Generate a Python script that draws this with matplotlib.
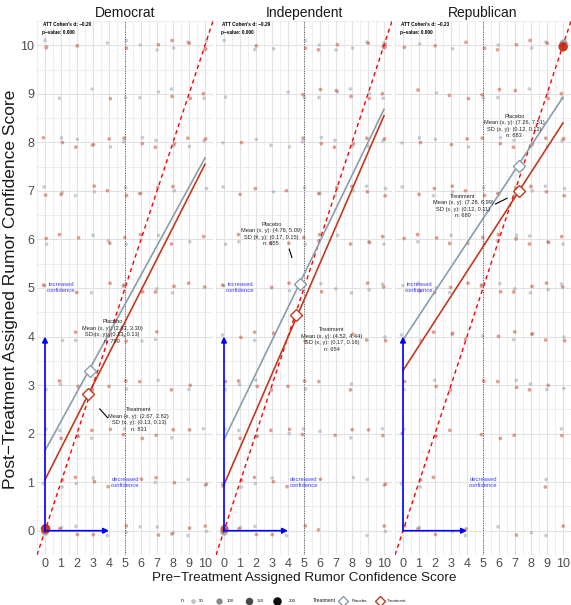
import numpy as np
import matplotlib
matplotlib.use("Agg")
import matplotlib.pyplot as plt

plt.rcParams['font.family'] = ['Liberation Sans', 'DejaVu Sans']

parties = ["Democrat", "Independent", "Republican"]
scores = list(range(11))

# Respondent counts per (pre, post) cell.
# Rows: post-treatment score 10 down to 0; columns: pre-treatment score 0..10.
dem_placebo_counts = [
    [6, 0, 0, 0, 3, 5, 3, 3, 4, 5, 5],
    [0, 4, 0, 3, 0, 4, 3, 3, 5, 0, 5],
    [0, 4, 3, 4, 3, 4, 4, 5, 5, 4, 5],
    [5, 5, 3, 5, 0, 5, 4, 0, 5, 0, 4],
    [5, 0, 0, 5, 5, 5, 0, 5, 0, 4, 0],
    [4, 0, 0, 4, 0, 5, 0, 5, 4, 0, 0],
    [0, 4, 5, 4, 0, 4, 3, 3, 0, 0, 0],
    [8, 4, 0, 0, 0, 4, 0, 4, 0, 4, 0],
    [8, 5, 4, 4, 0, 4, 0, 0, 4, 0, 4],
    [6, 4, 4, 4, 0, 0, 0, 4, 0, 4, 4],
    [150, 6, 6, 0, 4, 4, 3, 4, 4, 4, 4],
]
dem_treatment_counts = [
    [12, 0, 6, 0, 0, 5, 0, 4, 6, 5, 14],
    [0, 0, 0, 0, 3, 0, 0, 0, 6, 5, 5],
    [3, 4, 5, 5, 4, 6, 5, 5, 6, 4, 5],
    [5, 5, 0, 5, 4, 5, 4, 6, 6, 0, 0],
    [5, 5, 5, 0, 5, 4, 5, 0, 5, 0, 5],
    [5, 0, 6, 0, 5, 4, 6, 6, 6, 5, 5],
    [4, 0, 4, 0, 0, 4, 0, 4, 0, 0, 0],
    [0, 5, 5, 5, 4, 5, 4, 0, 5, 4, 0],
    [0, 6, 5, 6, 4, 5, 5, 4, 6, 5, 0],
    [0, 6, 5, 5, 4, 0, 5, 4, 4, 0, 4],
    [260, 6, 6, 5, 0, 5, 0, 4, 4, 5, 4],
]
ind_placebo_counts = [
    [4, 0, 4, 4, 0, 4, 3, 4, 4, 5, 30],
    [4, 0, 0, 0, 3, 4, 4, 4, 5, 5, 5],
    [3, 0, 4, 4, 3, 4, 4, 4, 5, 5, 5],
    [4, 0, 0, 4, 0, 5, 4, 4, 5, 4, 4],
    [4, 4, 4, 0, 0, 4, 4, 5, 0, 4, 4],
    [5, 0, 0, 0, 4, 5, 4, 5, 5, 5, 5],
    [5, 0, 4, 0, 0, 0, 0, 0, 0, 0, 5],
    [6, 5, 4, 0, 0, 5, 0, 0, 5, 0, 0],
    [5, 5, 4, 0, 4, 4, 4, 0, 5, 0, 4],
    [5, 5, 4, 4, 0, 0, 0, 0, 4, 4, 4],
    [150, 5, 4, 0, 4, 0, 0, 0, 0, 4, 5],
]
ind_treatment_counts = [
    [0, 0, 4, 0, 0, 4, 4, 5, 0, 5, 40],
    [0, 0, 0, 0, 0, 5, 5, 4, 5, 5, 6],
    [0, 4, 0, 0, 0, 5, 5, 5, 5, 5, 5],
    [0, 4, 5, 0, 4, 0, 5, 5, 5, 5, 6],
    [0, 4, 0, 5, 5, 5, 5, 0, 5, 5, 5],
    [4, 0, 0, 5, 5, 5, 5, 0, 0, 5, 5],
    [5, 4, 4, 4, 0, 4, 0, 0, 4, 5, 5],
    [5, 5, 5, 5, 4, 5, 4, 0, 5, 0, 0],
    [0, 5, 5, 5, 4, 5, 0, 4, 5, 4, 5],
    [4, 5, 4, 5, 4, 0, 4, 0, 0, 0, 5],
    [150, 5, 5, 5, 0, 5, 4, 0, 0, 0, 5],
]
rep_placebo_counts = [
    [0, 4, 0, 4, 0, 0, 4, 0, 5, 5, 170],
    [0, 0, 4, 0, 0, 4, 4, 0, 5, 5, 6],
    [4, 5, 4, 0, 4, 0, 4, 5, 5, 5, 6],
    [4, 0, 5, 5, 0, 5, 4, 5, 5, 5, 5],
    [0, 4, 0, 5, 0, 5, 5, 5, 5, 4, 5],
    [4, 5, 4, 4, 0, 5, 5, 5, 5, 5, 5],
    [5, 5, 0, 4, 0, 5, 0, 5, 5, 0, 5],
    [5, 0, 5, 0, 0, 0, 0, 5, 5, 5, 4],
    [4, 0, 4, 0, 0, 0, 0, 0, 0, 0, 5],
    [5, 5, 0, 0, 0, 0, 0, 0, 0, 5, 0],
    [0, 5, 0, 4, 5, 0, 5, 0, 4, 5, 0],
]
rep_treatment_counts = [
    [5, 0, 4, 0, 4, 6, 4, 5, 6, 6, 250],
    [0, 5, 0, 5, 4, 4, 5, 5, 0, 5, 6],
    [0, 5, 0, 5, 5, 5, 5, 5, 6, 5, 8],
    [0, 5, 5, 5, 4, 5, 4, 5, 8, 5, 6],
    [5, 5, 5, 5, 5, 5, 5, 7, 6, 5, 5],
    [0, 5, 5, 5, 5, 8, 5, 5, 6, 5, 5],
    [5, 0, 5, 5, 4, 0, 5, 5, 5, 5, 5],
    [5, 0, 5, 5, 0, 5, 5, 5, 5, 5, 0],
    [5, 0, 5, 5, 0, 5, 5, 5, 0, 0, 5],
    [0, 5, 5, 0, 0, 0, 0, 0, 0, 5, 0],
    [5, 5, 5, 0, 5, 0, 0, 5, 0, 0, 5],
]
placebo_counts = [dem_placebo_counts, ind_placebo_counts, rep_placebo_counts]
treatment_counts = [dem_treatment_counts, ind_treatment_counts, rep_treatment_counts]

cohens_d = [-0.20, -0.29, -0.23]
p_values = [0.000, 0.000, 0.000]

placebo_mean_x = [2.83, 4.76, 7.26]
placebo_mean_y = [3.30, 5.09, 7.51]
placebo_sd_x = [0.13, 0.17, 0.12]
placebo_sd_y = [0.13, 0.15, 0.12]
placebo_n = [790, 655, 683]
treatment_mean_x = [2.67, 4.52, 7.28]
treatment_mean_y = [2.82, 4.44, 6.99]
treatment_sd_x = [0.13, 0.17, 0.12]
treatment_sd_y = [0.13, 0.16, 0.11]
treatment_n = [831, 654, 680]

# Fitted OLS lines (post ~ pre) per arm
placebo_intercept = [1.65, 1.88, 3.93]
placebo_slope = [0.603, 0.68, 0.50]
treatment_intercept = [1.05, 0.95, 3.30]
treatment_slope = [0.65, 0.76, 0.51]

size_legend_n = [50, 100, 150, 200]
arm_labels = ["Placebo", "Treatment"]

# Styling / layout
placebo_col = "#8b9dab"
treatment_col = "#c4391d"
placebo_label_pos = [(4.2, 4.1), (2.96, 6.11), (6.95, 8.34)]
treatment_label_pos = [(5.86, 2.29), (6.74, 3.94), (3.75, 6.69)]
leader_segments = [
    [((3.42, 2.51), (3.91, 2.33))],
    [((4.08, 5.80), (4.24, 5.63))],
    [((5.78, 6.73), (6.51, 6.85))],
]


def diam_px(n):
    return 2.8 + 0.42 * np.sqrt(n)


def point_size(n):
    return (diam_px(n) * 0.72) ** 2


def point_alpha(n):
    return np.clip(0.48 + 0.52 * (np.asarray(n) / 220.0) ** 1.5, 0, 1)


def cells(counts, shift):
    m = np.array(counts)
    post_vals = np.array(scores[::-1])
    xs, ys, ns = [], [], []
    for r in range(11):
        for c in range(11):
            n = m[r, c]
            if n > 0:
                # small deterministic jitter so the two arms don't overlap exactly
                amp = 0.1 if n < 20 else 0.04
                jx = amp * np.sin(1.9 * r + 2.7 * c + shift)
                jy = amp * np.cos(2.3 * r + 1.3 * c + 2 * shift)
                xs.append(scores[c] + jx)
                ys.append(post_vals[r] + jy)
                ns.append(n)
    return np.array(xs), np.array(ys), np.array(ns)


W, H = 571, 605
fig = plt.figure(figsize=(W / 100, H / 100), dpi=100)
panel_left = [37, 216, 395]
panel_w = 176
panel_top, panel_bottom = 21, 555

for i, party in enumerate(parties):
    ax = fig.add_axes([panel_left[i] / W, (H - panel_bottom) / H, panel_w / W,
                       (panel_bottom - panel_top) / H])
    ax.set_xlim(-0.5, 10.5)
    ax.set_ylim(-0.5, 10.5)
    ax.set_xticks(scores)
    ax.set_yticks(scores)
    ax.set_xticks(np.arange(-0.5, 10.6, 1.0), minor=True)
    ax.set_yticks(np.arange(-0.5, 10.6, 1.0), minor=True)
    ax.grid(which="major", color="#e2e2e2", lw=0.8, zorder=0)
    ax.grid(which="minor", color="#ebebeb", lw=0.6, zorder=0)
    ax.set_axisbelow(True)
    for sp in ax.spines.values():
        sp.set_visible(False)
    ax.tick_params(which="both", length=0, labelsize=9, labelcolor="#4d4d4d", pad=2)
    if i > 0:
        ax.tick_params(axis="y", labelleft=False)
    ax.set_title(party, fontsize=10, color="#1a1a1a", pad=3)

    # cell counts
    for counts, col, shift in ((placebo_counts[i], placebo_col, 0.0),
                               (treatment_counts[i], treatment_col, 1.0)):
        xs, ys, ns = cells(counts, shift)
        rgba = np.tile(matplotlib.colors.to_rgba(col), (len(ns), 1))
        rgba[:, 3] = point_alpha(ns)
        ax.scatter(xs, ys, s=point_size(ns), c=rgba, lw=0, zorder=2)

    # reference lines
    ax.axvline(5, color="#555555", lw=0.7, ls=(0, (1, 1.5)), zorder=3)
    ax.plot([-0.5, 10.5], [-0.5, 10.5], color="#ff0000", lw=1.0,
            ls=(0, (3, 2.5)), zorder=3)

    xline = np.array([0, 10])
    ax.plot(xline, placebo_intercept[i] + placebo_slope[i] * xline,
            color=placebo_col, lw=1.2, zorder=4)
    ax.plot(xline, treatment_intercept[i] + treatment_slope[i] * xline,
            color=treatment_col, lw=1.2, zorder=4)

    # direction arrows
    for tip in ((0, 4), (4, 0)):
        ax.annotate("", xy=tip, xytext=(0, 0),
                    arrowprops=dict(arrowstyle="-|>", color="#0000ff", lw=1.2,
                                    mutation_scale=8, shrinkA=0, shrinkB=0), zorder=5)
    ax.text(1, 5, "increased\nconfidence", color="#3b3bff", fontsize=4.2,
            ha="center", va="center", linespacing=1.25, zorder=6)
    ax.text(5, 1, "decreased\nconfidence", color="#3b3bff", fontsize=4.2,
            ha="center", va="center", linespacing=1.25, zorder=6)

    # group means
    ax.plot(placebo_mean_x[i], placebo_mean_y[i], marker="D", ms=6.2, mfc="white",
            mec=placebo_col, mew=1.0, zorder=7)
    ax.plot(treatment_mean_x[i], treatment_mean_y[i], marker="D", ms=6.2, mfc="white",
            mec=treatment_col, mew=1.0, zorder=7)

    # labels for means
    ptxt = (f"Placebo\nMean (x, y): ({placebo_mean_x[i]:.2f}, {placebo_mean_y[i]:.2f})\n"
            f"SD (x, y): ({placebo_sd_x[i]:.2f}, {placebo_sd_y[i]:.2f})\nn: {placebo_n[i]}")
    ttxt = (f"Treatment\nMean (x, y): ({treatment_mean_x[i]:.2f}, {treatment_mean_y[i]:.2f})\n"
            f"SD (x, y): ({treatment_sd_x[i]:.2f}, {treatment_sd_y[i]:.2f})\nn: {treatment_n[i]}")
    ax.text(*placebo_label_pos[i], ptxt, fontsize=4.1, ha="center", va="center",
            linespacing=1.38, color="#222222", zorder=8)
    ax.text(*treatment_label_pos[i], ttxt, fontsize=4.1, ha="center", va="center",
            linespacing=1.38, color="#222222", zorder=8)
    for (x0, y0), (x1, y1) in leader_segments[i]:
        ax.plot([x0, x1], [y0, y1], color="black", lw=0.8, zorder=8)

    ax.text(-0.12, 10.43, f"ATT Cohen's d: \u2212{abs(cohens_d[i]):.2f}", fontsize=3.4,
            fontweight="bold", ha="left", va="center", zorder=8)
    ax.text(-0.2, 10.27, f"p\u2212value: {p_values[i]:.3f}", fontsize=3.4,
            fontweight="bold", ha="left", va="center", zorder=8)

fig.text((37 + 571) / 2 / W, 1 - 578 / H,
         "Pre\u2212Treatment Assigned Rumor Confidence Score",
         ha="center", va="center", fontsize=9.7, color="#1a1a1a")
fig.text(11 / W, 1 - 289 / H, "Post\u2212Treatment Assigned Rumor Confidence Score",
         ha="center", va="center", rotation=90, fontsize=12.5, color="#1a1a1a")

# legend row, laid out in pixel units along the bottom strip
leg = fig.add_axes([0, 0, 1, 1], zorder=10)
leg.set_xlim(0, W)
leg.set_ylim(H, 0)
leg.axis("off")
ly = 601
leg.text(182, ly, "n", fontsize=3.6, ha="center", va="center", color="#1a1a1a")
size_key_x = [192.7, 219, 248.7, 277]
size_text_x = [199, 227, 256.5, 289]
for n, kx, tx in zip(size_legend_n, size_key_x, size_text_x):
    leg.plot(kx, ly, ls="", marker="o", mfc="black", mec="none",
             alpha=float(np.clip(n / 200.0, 0.25, 1)) * 0.95,
             ms=(1.0 + 0.53 * np.sqrt(n)) * 0.72)
    leg.text(tx, ly, str(n), fontsize=3.2, ha="left", va="center", color="#1a1a1a")
leg.text(313, ly, "Treatment", fontsize=3.6, ha="left", va="center", color="#1a1a1a")
for lab, col, kx, tx in zip(arm_labels, [placebo_col, treatment_col], [342.7, 380], [352, 387]):
    leg.plot(kx, ly, ls="", marker="D", ms=5.6, mfc="white", mec=col, mew=1.0)
    leg.text(tx, ly, lab, fontsize=3.2, ha="left", va="center", color="#1a1a1a")

fig.savefig("out.png", dpi=100, facecolor="white")
